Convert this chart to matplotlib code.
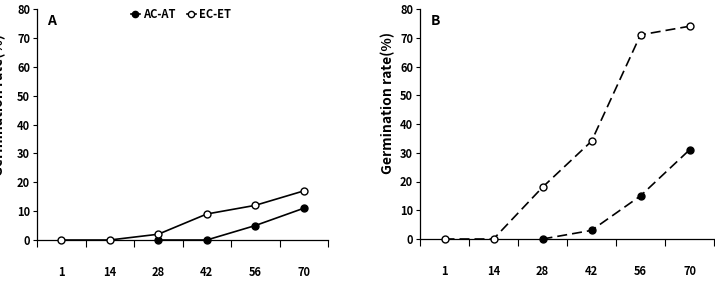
import numpy as np
import matplotlib
matplotlib.use('Agg')
import matplotlib.pyplot as plt

plt.rcParams['font.family'] = ['Noto Sans CJK KR', 'DejaVu Sans']
plt.rcParams['font.weight'] = 'bold'

days = ['1', '14', '28', '42', '56', '70']
# panel A
a_acat = [np.nan, np.nan, 0, 0, 5, 11]
a_ecet = [0, 0, 2, 9, 12, 17]
# panel B
b_acat = [np.nan, np.nan, 0, 3, 15, 31]
b_ecet = [0, 0, 18, 34, 71, 74]

fig = plt.figure(figsize=(7.15, 2.82), dpi=100)
axA = fig.add_axes([37/715, 1-240/282, 291/715, 231/282])
axB = fig.add_axes([420/715, 1-239/282, 294/715, 230/282])

def style(ax, letter):
    x = np.arange(len(days))
    ax.set_xlim(-0.5, len(days) - 0.5)
    ax.set_ylim(0, 80)
    ax.set_yticks(range(0, 81, 10))
    ax.set_xticks(np.arange(-0.5, len(days), 1.0))
    ax.set_xticklabels([])
    ax.set_xticks(x, minor=True)
    ax.set_xticklabels(days, minor=True)
    ax.tick_params(axis='x', which='major', direction='out', length=5, width=0.8)
    ax.tick_params(axis='x', which='minor', length=0, pad=19, labelsize=8)
    ax.tick_params(axis='y', direction='out', length=3, width=0.8, labelsize=8, pad=2)
    for s in ['top', 'right']:
        ax.spines[s].set_visible(False)
    for s in ['left', 'bottom']:
        ax.spines[s].set_linewidth(0.9)
    ax.text(0.035, 0.948, letter, transform=ax.transAxes, fontsize=10,
            fontweight='bold', va='center')

x = np.arange(len(days))
style(axA, 'A')
axA.plot(x, a_acat, '-o', color='black', mfc='black', mec='black', ms=5, lw=1.2,
         label='AC-AT', clip_on=False, zorder=3)
axA.plot(x, a_ecet, '-o', color='black', mfc='white', mec='black', ms=5, lw=1.2,
         label='EC-ET', clip_on=False, zorder=4)
axA.legend(loc='center', bbox_to_anchor=(0.495, 0.975), ncol=2, frameon=False,
           handlelength=0.8, handletextpad=0.3, columnspacing=1.0, fontsize=8,
           markerscale=0.9, borderpad=0.1)

style(axB, 'B')
axB.plot(x, b_acat, '--o', color='black', mfc='black', mec='black', ms=5, lw=1.2,
         dashes=(6, 3), clip_on=False, zorder=3)
axB.plot(x, b_ecet, '--o', color='black', mfc='white', mec='black', ms=5, lw=1.2,
         dashes=(6, 3), clip_on=False, zorder=4)

fig.text(388/715, 1-103/282, 'Germination rate(%)', rotation=90, fontsize=10,
         fontweight='bold', ha='center', va='center')
fig.text(-1.5/715, 1-105/282, 'Germination rate(%)', rotation=90, fontsize=10,
         fontweight='bold', ha='center', va='center')

fig.savefig('out.png', dpi=100)
